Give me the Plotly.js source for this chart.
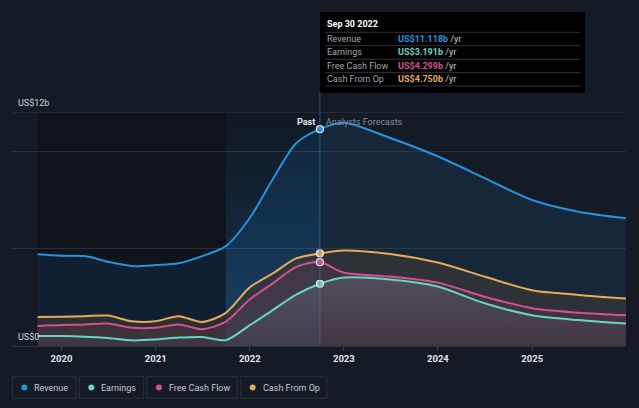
<!DOCTYPE html>
<html>
<head>
<meta charset="utf-8">
<script src="https://cdn.plot.ly/plotly-3.0.1.min.js"></script>
<style>
  html, body { margin: 0; padding: 0; background: #151b25; }
  #chart { width: 639px; height: 408px; }
</style>
</head>
<body>
<div id="chart"></div>
<script>
// ---- data (US$ billions, trailing twelve months) ----
const pastDates = ['2019-09-30','2019-12-31','2020-03-31','2020-06-30','2020-09-30','2020-12-31',
                   '2021-03-31','2021-06-30','2021-09-30','2021-12-31','2022-03-31','2022-06-30','2022-09-30'];
const forecastDates = ['2022-12-31','2023-06-30','2023-12-31','2024-06-30','2024-12-31','2025-06-30','2025-12-31'];

const revenuePast  = [4.70, 4.63, 4.61, 4.32, 4.10, 4.15, 4.24, 4.61, 5.12, 6.55, 8.55, 10.40, 11.118];
const earningsPast = [0.51, 0.51, 0.48, 0.41, 0.29, 0.33, 0.43, 0.46, 0.30, 1.06, 1.84, 2.63, 3.191];
const fcfPast      = [1.03, 1.08, 1.10, 1.15, 0.93, 0.93, 1.10, 0.86, 1.25, 2.38, 3.21, 4.06, 4.299];
const cfoPast      = [1.49, 1.50, 1.53, 1.56, 1.27, 1.27, 1.53, 1.23, 1.70, 3.00, 3.72, 4.49, 4.750];

const revenueForecast  = [11.45, 10.67, 9.73, 8.61, 7.49, 6.89, 6.55];
const earningsForecast = [3.51, 3.41, 3.05, 2.19, 1.58, 1.33, 1.15];
const fcfForecast      = [3.77, 3.56, 3.25, 2.53, 1.94, 1.71, 1.58];
const cfoForecast      = [4.90, 4.72, 4.28, 3.56, 2.86, 2.62, 2.44];

const seriesNames = ['Revenue', 'Earnings', 'Free Cash Flow', 'Cash From Op'];
const tooltipDate = 'Sep 30 2022';
const highlightStart = '2021-09-30';
const yTickVals = [5, 10];
const yMax = 12;
const xTickVals = ['2020-01-01','2021-01-01','2022-01-01','2023-01-01','2024-01-01','2025-01-01'];
const xTickText = ['2020','2021','2022','2023','2024','2025'];

// ---- styles ----
const colors = { rev: '#2394df', earn: '#66d6c4', fcf: '#d4508e', cfo: '#e7ab55' };
const BG = '#151b25';
const FONT = 'Roboto, "Open Sans", sans-serif';

const allDates = pastDates.concat(forecastDates);
const pastEnd = pastDates[pastDates.length - 1];
const last = a => a[a.length - 1];

// pixel -> paper helpers (plot area: x 12..626, y 112..346)
const L = 12, R = 626, T = 112, B = 346;
const px = x => (x - L) / (R - L);
const py = y => (B - y) / (B - T);

function lineTrace(y, color, fill) {
  const t = {
    x: allDates, y: y, type: 'scatter', mode: 'lines',
    line: { color: color, width: 2, shape: 'spline', smoothing: 0.8 },
    fill: 'tozeroy', hoverinfo: 'skip', showlegend: false
  };
  Object.assign(t, fill);
  return t;
}

const traces = [
  // highlighted last year of past data
  { x: [highlightStart, pastEnd], y: [yMax, yMax], type: 'scatter', mode: 'none', fill: 'tozeroy',
    fillgradient: { type: 'vertical', colorscale: [[0, 'rgba(40,130,210,0.32)'], [1, 'rgba(40,130,210,0.04)']] },
    hoverinfo: 'skip', showlegend: false },
  lineTrace(revenuePast.concat(revenueForecast), colors.rev, { fillcolor: 'rgba(35,130,210,0.12)' }),
  lineTrace(cfoPast.concat(cfoForecast), colors.cfo, { fillcolor: 'rgba(58,55,52,0.68)' }),
  lineTrace(fcfPast.concat(fcfForecast), colors.fcf, { fillcolor: 'rgba(214,83,141,0.10)' }),
  lineTrace(earningsPast.concat(earningsForecast), colors.earn, {
    fillgradient: { type: 'vertical', colorscale: [[0, 'rgba(150,170,190,0.02)'], [1, 'rgba(150,170,190,0.22)']] }
  }),
  // markers at the last reported point
  { x: [pastEnd, pastEnd, pastEnd, pastEnd],
    y: [last(revenuePast), last(cfoPast), last(fcfPast), last(earningsPast)],
    type: 'scatter', mode: 'markers', hoverinfo: 'skip', showlegend: false,
    marker: { size: 7, color: [colors.rev, colors.cfo, colors.fcf, colors.earn], line: { color: '#e8e8e8', width: 1.2 } } }
];

const shapes = [
  // darker past region
  { type: 'rect', layer: 'below', xref: 'x', yref: 'y', x0: pastDates[0], x1: pastEnd, y0: 0, y1: yMax,
    fillcolor: '#0f131a', line: { width: 0 } },
  // top gridline (US$12b)
  { type: 'line', xref: 'paper', yref: 'y', x0: 0, x1: 1, y0: yMax, y1: yMax,
    line: { color: '#353b46', width: 1 } },
  // vertical divider at last reported date
  { type: 'line', xref: 'x', yref: 'paper', x0: pastEnd, x1: pastEnd, y0: 0, y1: py(93),
    line: { color: 'rgba(60,130,190,0.55)', width: 1 } },
  // tooltip box
  { type: 'rect', xref: 'paper', yref: 'paper', x0: px(320), x1: px(585), y0: py(93), y1: py(12),
    fillcolor: '#000000', line: { width: 0 } }
];
[32.3, 45.7, 59.3, 72.7, 86].forEach(y => shapes.push({
  type: 'line', xref: 'paper', yref: 'paper', x0: px(325), x1: px(580), y0: py(y), y1: py(y),
  line: { color: '#333333', width: 1 }
}));

const annotations = [];
function ann(text, x, y, opts) {
  annotations.push(Object.assign({
    text: text, xref: 'paper', yref: 'paper', x: px(x), y: py(y), showarrow: false,
    xanchor: 'left', yanchor: 'middle', font: { family: FONT, size: 9, color: '#d0d3d8' }
  }, opts || {}));
}
ann('US$12b', 16, 103);
ann('US$0', 16, 337);
ann('<b>Past</b>', 317, 122, { xanchor: 'right', font: { family: FONT, size: 9, color: '#e6e6e6' } });
ann('Analysts Forecasts', 324, 122, { font: { family: FONT, size: 9, color: '#858b95' } });

// tooltip text
ann('<b>' + tooltipDate + '</b>', 325, 24, { font: { family: FONT, size: 9, color: '#ffffff' } });
const tipVals = [last(revenuePast), last(earningsPast), last(fcfPast), last(cfoPast)];
const tipCols = [colors.rev, colors.earn, colors.fcf, colors.cfo];
const rowY = [39, 52.3, 66, 79.3];
seriesNames.forEach((n, i) => {
  ann(n, 325, rowY[i], { font: { family: FONT, size: 9, color: '#a2a7af' } });
  ann('<b><span style="color:' + tipCols[i] + '">US$' + tipVals[i].toFixed(3) + 'b</span></b> /yr',
      396, rowY[i], { font: { family: FONT, size: 9, color: '#c8ccd2' } });
});

// legend (boxed items)
const legBoxes = [[12.3, 76], [79.3, 143.7], [147, 237.3], [240.7, 326.7]];
const legCols = [colors.rev, colors.earn, colors.fcf, colors.cfo];
legBoxes.forEach((b, i) => {
  shapes.push({ type: 'rect', xref: 'paper', yref: 'paper', x0: px(b[0]), x1: px(b[1]), y0: py(398.3), y1: py(376.7),
    fillcolor: 'rgba(0,0,0,0)', line: { color: '#2b323e', width: 1 } });
  shapes.push({ type: 'circle', xref: 'paper', yref: 'paper', xsizemode: 'pixel', ysizemode: 'pixel',
    xanchor: px(b[0] + 12), yanchor: py(387.5), x0: -3, x1: 3, y0: -3, y1: 3,
    fillcolor: legCols[i], line: { width: 0 } });
  ann(seriesNames[i], b[0] + 20, 387.5, { font: { family: FONT, size: 9, color: '#c5cad1' } });
});

const layout = {
  width: 639, height: 408,
  paper_bgcolor: BG, plot_bgcolor: BG,
  margin: { l: L, r: 639 - R, t: T, b: 408 - B, pad: 0 },
  showlegend: false,
  xaxis: {
    type: 'date', range: ['2019-06-23', '2025-12-31'],
    tickvals: xTickVals, ticktext: xTickText,
    showgrid: false, zeroline: false,
    showline: true, linecolor: '#2c333f', linewidth: 1,
    ticks: 'outside', ticklen: 4, tickcolor: '#3a414d',
    tickfont: { family: FONT, size: 9.5, color: '#e2e5ea', weight: 'bold' }
  },
  yaxis: {
    range: [0, yMax], tickvals: yTickVals, showticklabels: false,
    showgrid: true, gridcolor: '#2a303b', gridwidth: 1, zeroline: false, showline: false
  },
  shapes: shapes,
  annotations: annotations,
  hovermode: false
};

Plotly.newPlot('chart', traces, layout, { displayModeBar: false, staticPlot: true });
</script>
</body>
</html>
